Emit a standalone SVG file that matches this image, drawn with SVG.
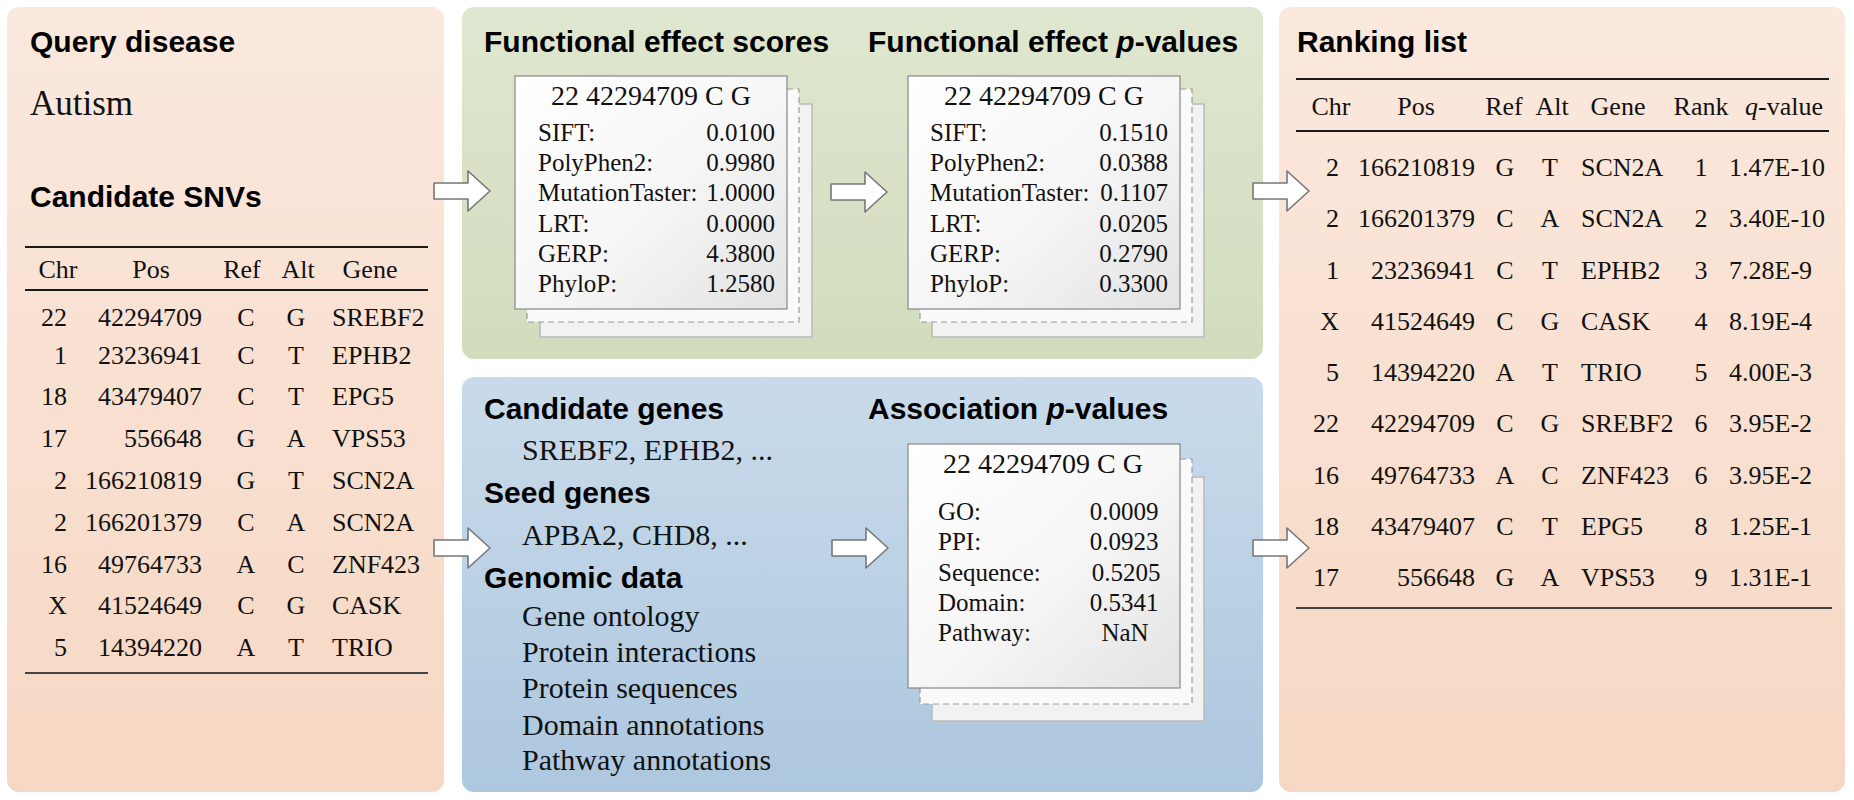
<svg xmlns="http://www.w3.org/2000/svg" width="1854" height="800" viewBox="0 0 1854 800">
<defs>
<linearGradient id="gPeach" x1="0" y1="0" x2="0" y2="1"><stop offset="0" stop-color="#fbe9de"/><stop offset="1" stop-color="#f6d7c3"/></linearGradient>
<linearGradient id="gGreen" x1="0" y1="0" x2="0" y2="1"><stop offset="0" stop-color="#dfe7d0"/><stop offset="1" stop-color="#d2dcbd"/></linearGradient>
<linearGradient id="gBlue" x1="0" y1="0" x2="0" y2="1"><stop offset="0" stop-color="#c9dbea"/><stop offset="1" stop-color="#adc7df"/></linearGradient>
<linearGradient id="gCard" x1="0" y1="0" x2="1" y2="1"><stop offset="0" stop-color="#ffffff"/><stop offset="0.5" stop-color="#f7f7f7"/><stop offset="1" stop-color="#e3e3e3"/></linearGradient>
<path id="arr" d="M0,-8 H34 V-20 L56,0 L34,20 V8 H0 Z"/>
<style>
.h{font-family:"Liberation Sans",Arial,sans-serif;font-weight:bold;font-size:30px;fill:#000}
.t{font-family:"Liberation Serif","Times New Roman",serif;font-size:26px;fill:#111}
.s{font-family:"Liberation Serif","Times New Roman",serif;font-size:30px;fill:#111}
.c{font-family:"Liberation Serif","Times New Roman",serif;font-size:25px;fill:#111}
.ch{font-family:"Liberation Serif","Times New Roman",serif;font-size:28px;fill:#111}
.m{text-anchor:middle}.e{text-anchor:end}
.rule{stroke:#1a1a1a;stroke-width:2}
.front{fill:url(#gCard);stroke:#888;stroke-width:1.2}
.mid{fill:#fafafa;stroke:#999;stroke-width:1.2;stroke-dasharray:6 4}
.back{fill:#f2f2f2;stroke:#bbb;stroke-width:1.5}
.arrow{fill:#fff;stroke:#777;stroke-width:1.6;stroke-linejoin:round}
</style>
</defs>

<g id="panel-input">
<rect x="7" y="7" width="437" height="785" rx="12" fill="url(#gPeach)"/>
<text class="h" x="30" y="52">Query disease</text>
<text class="t" x="30" y="115" style="font-size:35px">Autism</text>
<text class="h" x="30" y="207">Candidate SNVs</text>
<line class="rule" x1="25" y1="247" x2="428" y2="247"/>
<line class="rule" x1="25" y1="290" x2="428" y2="290"/>
<line class="rule" x1="25" y1="673" x2="428" y2="673" style="stroke:#444"/>
<g class="t">
<text class="m" x="58" y="278">Chr</text><text class="m" x="151" y="278">Pos</text><text class="m" x="242" y="278">Ref</text><text class="m" x="298" y="278">Alt</text><text class="m" x="370" y="278">Gene</text>
</g>
<g class="t">
<text class="e" x="67" y="326">22</text><text class="e" x="202" y="326">42294709</text><text class="m" x="246" y="326">C</text><text class="m" x="296" y="326">G</text><text x="332" y="326">SREBF2</text>
<text class="e" x="67" y="364">1</text><text class="e" x="202" y="364">23236941</text><text class="m" x="246" y="364">C</text><text class="m" x="296" y="364">T</text><text x="332" y="364">EPHB2</text>
<text class="e" x="67" y="405">18</text><text class="e" x="202" y="405">43479407</text><text class="m" x="246" y="405">C</text><text class="m" x="296" y="405">T</text><text x="332" y="405">EPG5</text>
<text class="e" x="67" y="447">17</text><text class="e" x="202" y="447">556648</text><text class="m" x="246" y="447">G</text><text class="m" x="296" y="447">A</text><text x="332" y="447">VPS53</text>
<text class="e" x="67" y="489">2</text><text class="e" x="202" y="489">166210819</text><text class="m" x="246" y="489">G</text><text class="m" x="296" y="489">T</text><text x="332" y="489">SCN2A</text>
<text class="e" x="67" y="531">2</text><text class="e" x="202" y="531">166201379</text><text class="m" x="246" y="531">C</text><text class="m" x="296" y="531">A</text><text x="332" y="531">SCN2A</text>
<text class="e" x="67" y="573">16</text><text class="e" x="202" y="573">49764733</text><text class="m" x="246" y="573">A</text><text class="m" x="296" y="573">C</text><text x="332" y="573">ZNF423</text>
<text class="e" x="67" y="614">X</text><text class="e" x="202" y="614">41524649</text><text class="m" x="246" y="614">C</text><text class="m" x="296" y="614">G</text><text x="332" y="614">CASK</text>
<text class="e" x="67" y="656">5</text><text class="e" x="202" y="656">14394220</text><text class="m" x="246" y="656">A</text><text class="m" x="296" y="656">T</text><text x="332" y="656">TRIO</text>
</g>
</g>

<g id="panel-functional">
<rect x="462" y="7" width="801" height="352" rx="12" fill="url(#gGreen)"/>
<text class="h" x="484" y="52">Functional effect scores</text>
<text class="h" x="868" y="52">Functional effect <tspan font-style="italic">p</tspan>-values</text>
</g>

<g id="card-scores">
<rect class="back" x="540" y="104" width="272" height="233"/>
<rect class="mid" x="527" y="89" width="272" height="233"/>
<rect class="front" x="515" y="76" width="272" height="233"/>
<text class="ch m" x="651" y="105">22 42294709 C G</text>
<g class="c">
<text x="538" y="141">SIFT:</text><text class="e" x="775" y="141">0.0100</text>
<text x="538" y="171">PolyPhen2:</text><text class="e" x="775" y="171">0.9980</text>
<text x="538" y="201">MutationTaster:</text><text class="e" x="775" y="201">1.0000</text>
<text x="538" y="232">LRT:</text><text class="e" x="775" y="232">0.0000</text>
<text x="538" y="262">GERP:</text><text class="e" x="775" y="262">4.3800</text>
<text x="538" y="292">PhyloP:</text><text class="e" x="775" y="292">1.2580</text>
</g>
</g>

<g id="card-pvalues">
<rect class="back" x="932" y="104" width="272" height="233"/>
<rect class="mid" x="920" y="89" width="272" height="233"/>
<rect class="front" x="908" y="76" width="272" height="233"/>
<text class="ch m" x="1044" y="105">22 42294709 C G</text>
<g class="c">
<text x="930" y="141">SIFT:</text><text class="e" x="1168" y="141">0.1510</text>
<text x="930" y="171">PolyPhen2:</text><text class="e" x="1168" y="171">0.0388</text>
<text x="930" y="201">MutationTaster:</text><text class="e" x="1168" y="201">0.1107</text>
<text x="930" y="232">LRT:</text><text class="e" x="1168" y="232">0.0205</text>
<text x="930" y="262">GERP:</text><text class="e" x="1168" y="262">0.2790</text>
<text x="930" y="292">PhyloP:</text><text class="e" x="1168" y="292">0.3300</text>
</g>
</g>

<g id="panel-association">
<rect x="462" y="377" width="801" height="415" rx="12" fill="url(#gBlue)"/>
<text class="h" x="484" y="419">Candidate genes</text>
<text class="s" x="522" y="460">SREBF2, EPHB2, ...</text>
<text class="h" x="484" y="503">Seed genes</text>
<text class="s" x="522" y="545">APBA2, CHD8, ...</text>
<text class="h" x="484" y="588">Genomic data</text>
<g class="s">
<text x="522" y="626">Gene ontology</text>
<text x="522" y="662">Protein interactions</text>
<text x="522" y="698">Protein sequences</text>
<text x="522" y="735">Domain annotations</text>
<text x="522" y="770">Pathway annotations</text>
</g>
<text class="h" x="868" y="419">Association <tspan font-style="italic">p</tspan>-values</text>
</g>

<g id="card-association">
<rect class="back" x="932" y="477" width="272" height="244"/>
<rect class="mid" x="920" y="459" width="272" height="245"/>
<rect class="front" x="908" y="444" width="272" height="244"/>
<text class="ch m" x="1043" y="473">22 42294709 C G</text>
<g class="c">
<text x="938" y="520">GO:</text><text class="m" x="1124" y="520">0.0009</text>
<text x="938" y="550">PPI:</text><text class="m" x="1124" y="550">0.0923</text>
<text x="938" y="581">Sequence:</text><text class="m" x="1126" y="581">0.5205</text>
<text x="938" y="611">Domain:</text><text class="m" x="1124" y="611">0.5341</text>
<text x="938" y="641">Pathway:</text><text class="m" x="1125" y="641">NaN</text>
</g>
</g>

<g id="panel-ranking">
<rect x="1279" y="7" width="566" height="785" rx="12" fill="url(#gPeach)"/>
<text class="h" x="1297" y="52">Ranking list</text>
<line class="rule" x1="1296" y1="79" x2="1829" y2="79"/>
<line class="rule" x1="1296" y1="131" x2="1829" y2="131"/>
<line class="rule" x1="1296" y1="608" x2="1832" y2="608" style="stroke:#444"/>
<g class="t">
<text class="m" x="1331" y="115">Chr</text><text class="m" x="1416" y="115">Pos</text><text class="m" x="1504" y="115">Ref</text><text class="m" x="1552" y="115">Alt</text><text class="m" x="1618" y="115">Gene</text><text class="m" x="1701" y="115">Rank</text><text class="m" x="1784" y="115"><tspan font-style="italic">q</tspan>-value</text>
</g>
<g class="t">
<text class="e" x="1339" y="176">2</text><text class="e" x="1475" y="176">166210819</text><text class="m" x="1505" y="176">G</text><text class="m" x="1550" y="176">T</text><text x="1581" y="176">SCN2A</text><text class="m" x="1701" y="176">1</text><text x="1729" y="176">1.47E-10</text>
<text class="e" x="1339" y="227">2</text><text class="e" x="1475" y="227">166201379</text><text class="m" x="1505" y="227">C</text><text class="m" x="1550" y="227">A</text><text x="1581" y="227">SCN2A</text><text class="m" x="1701" y="227">2</text><text x="1729" y="227">3.40E-10</text>
<text class="e" x="1339" y="279">1</text><text class="e" x="1475" y="279">23236941</text><text class="m" x="1505" y="279">C</text><text class="m" x="1550" y="279">T</text><text x="1581" y="279">EPHB2</text><text class="m" x="1701" y="279">3</text><text x="1729" y="279">7.28E-9</text>
<text class="e" x="1339" y="330">X</text><text class="e" x="1475" y="330">41524649</text><text class="m" x="1505" y="330">C</text><text class="m" x="1550" y="330">G</text><text x="1581" y="330">CASK</text><text class="m" x="1701" y="330">4</text><text x="1729" y="330">8.19E-4</text>
<text class="e" x="1339" y="381">5</text><text class="e" x="1475" y="381">14394220</text><text class="m" x="1505" y="381">A</text><text class="m" x="1550" y="381">T</text><text x="1581" y="381">TRIO</text><text class="m" x="1701" y="381">5</text><text x="1729" y="381">4.00E-3</text>
<text class="e" x="1339" y="432">22</text><text class="e" x="1475" y="432">42294709</text><text class="m" x="1505" y="432">C</text><text class="m" x="1550" y="432">G</text><text x="1581" y="432">SREBF2</text><text class="m" x="1701" y="432">6</text><text x="1729" y="432">3.95E-2</text>
<text class="e" x="1339" y="484">16</text><text class="e" x="1475" y="484">49764733</text><text class="m" x="1505" y="484">A</text><text class="m" x="1550" y="484">C</text><text x="1581" y="484">ZNF423</text><text class="m" x="1701" y="484">6</text><text x="1729" y="484">3.95E-2</text>
<text class="e" x="1339" y="535">18</text><text class="e" x="1475" y="535">43479407</text><text class="m" x="1505" y="535">C</text><text class="m" x="1550" y="535">T</text><text x="1581" y="535">EPG5</text><text class="m" x="1701" y="535">8</text><text x="1729" y="535">1.25E-1</text>
<text class="e" x="1339" y="586">17</text><text class="e" x="1475" y="586">556648</text><text class="m" x="1505" y="586">G</text><text class="m" x="1550" y="586">A</text><text x="1581" y="586">VPS53</text><text class="m" x="1701" y="586">9</text><text x="1729" y="586">1.31E-1</text>
</g>
</g>

<g id="connectors" class="arrow">
<use href="#arr" transform="translate(434,191)"/>
<use href="#arr" transform="translate(831,192)"/>
<use href="#arr" transform="translate(1253,191)"/>
<use href="#arr" transform="translate(434,548)"/>
<use href="#arr" transform="translate(832,548)"/>
<use href="#arr" transform="translate(1253,548)"/>
</g>
</svg>
